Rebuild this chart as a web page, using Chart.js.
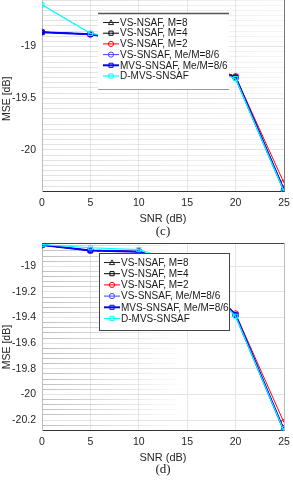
<!DOCTYPE html>
<html>
<head>
<meta charset="utf-8">
<script src="https://cdn.jsdelivr.net/npm/chart.js@4/dist/chart.umd.min.js"></script>
<style>
  html, body { margin: 0; padding: 0; background: #fff; }
  #wrap { position: relative; width: 293px; height: 480px; overflow: hidden; }
  canvas { position: absolute; left: 0; display: block; }
  .cap { position: absolute; left: 0; width: 326px; text-align: center; font: 13px 'Liberation Serif', serif; color: #222; }
</style>
</head>
<body>
<div id="wrap">
  <canvas id="chartC" width="293" height="226" style="top:0"></canvas>
  <div class="cap" style="top:223px">(c)</div>
  <canvas id="chartD" width="293" height="233" style="top:232px"></canvas>
  <div class="cap" style="top:461px">(d)</div>
</div>
<script>
// x values and tick labels
var snr = [0, 5, 10, 15, 20, 25];
var xTicks = [0, 5, 10, 15, 20, 25];
var yTicksC = [-20, -19.5, -19];
var yTicksD = [-20.2, -20, -19.8, -19.6, -19.4, -19.2, -19];

var names = ['VS-NSAF, M=8', 'VS-NSAF, M=4', 'VS-NSAF, M=2',
    'VS-SNSAF, Me/M=8/6', 'MVS-SNSAF, Me/M=8/6', 'D-MVS-SNSAF'];

// panel (c)  (values at 10 and 15 sit under the legend, estimated)
var m8C   = [-18.86, -18.88, -18.95, -19.12, -19.29, -20.38];
var m4C   = [-18.86, -18.88, -18.95, -19.12, -19.29, -20.39];
var m2C   = [-18.86, -18.88, -18.95, -19.12, -19.29, -20.32];
var vsC   = [-18.86, -18.88, -18.95, -19.12, -19.30, -20.39];
var mvsC  = [-18.86, -18.88, -18.95, -19.12, -19.30, -20.39];
var dmvsC = [-18.595, -18.872, -18.94, -19.12, -19.31, -20.40];

// panel (d)
var m8D   = [-18.834, -18.876, -18.885, -19.0, -19.38, -20.28];
var m4D   = [-18.834, -18.876, -18.885, -19.0, -19.38, -20.28];
var m2D   = [-18.834, -18.876, -18.885, -19.0, -19.37, -20.22];
var vsD   = [-18.834, -18.877, -18.886, -19.0, -19.38, -20.28];
var mvsD  = [-18.834, -18.877, -18.886, -19.0, -19.38, -20.28];
var dmvsD = [-18.830, -18.855, -18.870, -18.99, -19.39, -20.285];

var colors = ['#222222', '#000000', '#ff0000', '#4646ff', '#0000ff', '#00ffff'];
var markers = ['triangle', 'rect', 'circle', 'circle', 'rect', 'rect'];
var widths = [1, 1, 1, 1, 2, 1.2];

Chart.defaults.font.family = "'Liberation Sans', Arial, sans-serif";
Chart.defaults.font.size = 10;
Chart.defaults.color = '#262626';

function makeSets(series) {
    return series.map(function (vals, i) {
        return {
            label: names[i],
            data: snr.map(function (x, j) { return { x: x, y: vals[j] }; }),
            borderColor: colors[i],
            backgroundColor: 'rgba(0,0,0,0)',
            borderWidth: widths[i],
            pointStyle: markers[i],
            pointRadius: 3,
            pointBorderWidth: 1,
            pointBorderColor: colors[i],
            pointBackgroundColor: 'rgba(0,0,0,0)',
            order: 6 - i
        };
    });
}

function drawMarker(ctx, style, x, y, r) {
    ctx.beginPath();
    if (style === 'triangle') {
        ctx.moveTo(x, y - r);
        ctx.lineTo(x + r, y + r * 0.8);
        ctx.lineTo(x - r, y + r * 0.8);
        ctx.closePath();
    } else if (style === 'rect') {
        ctx.rect(x - r * 0.8, y - r * 0.8, r * 1.6, r * 1.6);
    } else {
        ctx.arc(x, y, r, 0, Math.PI * 2);
    }
    ctx.stroke();
}

// legend box drawn inside the plot, over the lines
var boxLegend = {
    id: 'boxLegend',
    afterDraw: function (chart, args, o) {
        var ctx = chart.ctx;
        ctx.save();
        ctx.fillStyle = '#fff';
        ctx.fillRect(o.x, o.y, o.w, o.h);
        ctx.strokeStyle = o.edge;
        ctx.lineWidth = 1;
        if (o.full) {
            ctx.strokeRect(o.x + 0.5, o.y + 0.5, o.w, o.h);
        } else {
            ctx.beginPath();
            ctx.moveTo(o.x, o.y + o.h + 0.5); ctx.lineTo(o.x + o.w, o.y + o.h + 0.5);
            ctx.stroke();
            ctx.strokeStyle = '#555';
            ctx.lineWidth = 1.5;
            ctx.beginPath();
            ctx.moveTo(o.x, o.y + 0.5); ctx.lineTo(o.x + o.w, o.y + 0.5);
            ctx.stroke();
        }
        ctx.font = "10px 'Liberation Sans', Arial, sans-serif";
        ctx.textBaseline = 'middle';
        chart.data.datasets.forEach(function (ds, i) {
            var ry = o.y + o.first + i * o.gap;
            ctx.strokeStyle = ds.borderColor;
            ctx.lineWidth = ds.borderWidth;
            ctx.beginPath();
            ctx.moveTo(o.x + 5, ry);
            ctx.lineTo(o.x + 21, ry);
            ctx.stroke();
            ctx.lineWidth = 1;
            drawMarker(ctx, ds.pointStyle, o.x + 13, ry, 2.6);
            ctx.fillStyle = '#1a1a1a';
            ctx.fillText(ds.label, o.x + 22, ry + 0.5);
        });
        ctx.restore();
    }
};

// top and right edges of the axes box
var frame = {
    id: 'frame',
    afterDatasetsDraw: function (chart, args, o) {
        var a = chart.chartArea, ctx = chart.ctx;
        ctx.save();
        ctx.lineWidth = 1;
        ctx.strokeStyle = o.top;
        ctx.beginPath();
        ctx.moveTo(a.left, a.top + 0.5); ctx.lineTo(a.right, a.top + 0.5);
        ctx.stroke();
        ctx.strokeStyle = o.right;
        ctx.beginPath();
        ctx.moveTo(a.right + 0.5, a.top); ctx.lineTo(a.right + 0.5, a.bottom);
        ctx.stroke();
        ctx.restore();
    }
};

// faint minor grid that fades out to the right
function fadeGrid(a0, a1, x1) {
    return function (c) {
        var area = c.chart.chartArea;
        if (!area) return 'rgba(0,0,0,0)';
        var g = c.chart.ctx.createLinearGradient(area.left, 0, x1, 0);
        g.addColorStop(0, 'rgba(170,170,170,' + a0 + ')');
        g.addColorStop(1, 'rgba(170,170,170,' + a1 + ')');
        return g;
    };
}

function makeChart(id, series, yMin, yMax, yTicks, yTitle, minorStep, minorFade, pad, legend, edges) {
    var ctx = document.getElementById(id).getContext('2d');
    return new Chart(ctx, {
        type: 'line',
        data: { datasets: makeSets(series) },
        plugins: [frame, boxLegend],
        options: {
            responsive: false,
            animation: false,
            devicePixelRatio: 1,
            layout: { padding: pad, autoPadding: false },
            plugins: {
                legend: { display: false },
                tooltip: { enabled: false },
                boxLegend: legend,
                frame: edges
            },
            scales: {
                x: {
                    type: 'linear',
                    min: 0,
                    max: 25,
                    afterBuildTicks: function (s) { s.ticks = xTicks.map(function (v) { return { value: v }; }); },
                    afterFit: function (s) { s.paddingLeft = 0; s.paddingRight = 0; },
                    grid: { color: '#e6e6e6', drawTicks: false },
                    border: { color: '#333', width: 1 },
                    ticks: { padding: 5, maxRotation: 0, font: { size: 10.5 }, color: '#262626' },
                    title: { display: true, text: 'SNR (dB)', font: { size: 11 }, color: '#262626', padding: { top: -1.6, bottom: 0 } }
                },
                yMinor: {
                    position: 'left',
                    min: yMin,
                    max: yMax,
                    afterFit: function (s) { s.width = 0; s.paddingTop = 0; s.paddingBottom = 0; },
                    grid: { color: minorFade, drawTicks: false },
                    border: { display: false },
                    ticks: { display: false, stepSize: minorStep, includeBounds: false }
                },
                y: {
                    min: yMin,
                    max: yMax,
                    afterBuildTicks: function (s) { s.ticks = yTicks.map(function (v) { return { value: v }; }); },
                    afterFit: function (s) { s.width = 42; s.paddingTop = 0; s.paddingBottom = 0; },
                    grid: { color: '#e3e3e3', drawTicks: false },
                    border: { color: '#bbb', width: 1 },
                    ticks: { padding: 6, font: { size: 10.5 }, color: '#262626',
                        callback: function (v) { return String(Math.round(v * 10) / 10); } },
                    title: { display: true, text: yTitle, font: { size: 10.5 }, color: '#262626', padding: { top: 1, bottom: 0 } }
                }
            }
        }
    });
}

// trailing spaces nudge the rotated title down to where the original sits
makeChart('chartC', [m8C, m4C, m2C, vsC, mvsC, dmvsC], -20.405, -18.549, yTicksC, 'MSE [dB]  ',
    0.05, fadeGrid(0.35, 0.12, 284),
    { left: 0, right: 9, top: 0, bottom: 0 },
    { x: 98, y: 13, w: 131, h: 76, first: 9.5, gap: 10.7, full: false, edge: '#999' },
    { top: 'rgba(0,0,0,0)', right: '#777' });

makeChart('chartD', [m8D, m4D, m2D, vsD, mvsD, dmvsD], -20.284, -18.818, yTicksD, 'MSE [dB]       ',
    0.04, fadeGrid(0.75, 0, 185),
    { left: 0, right: 9, top: 11, bottom: 0 },
    { x: 99, y: 21, w: 130, h: 77, first: 9.5, gap: 11.2, full: true, edge: '#444' },
    { top: '#444', right: '#bbb' });
</script>
</body>
</html>
